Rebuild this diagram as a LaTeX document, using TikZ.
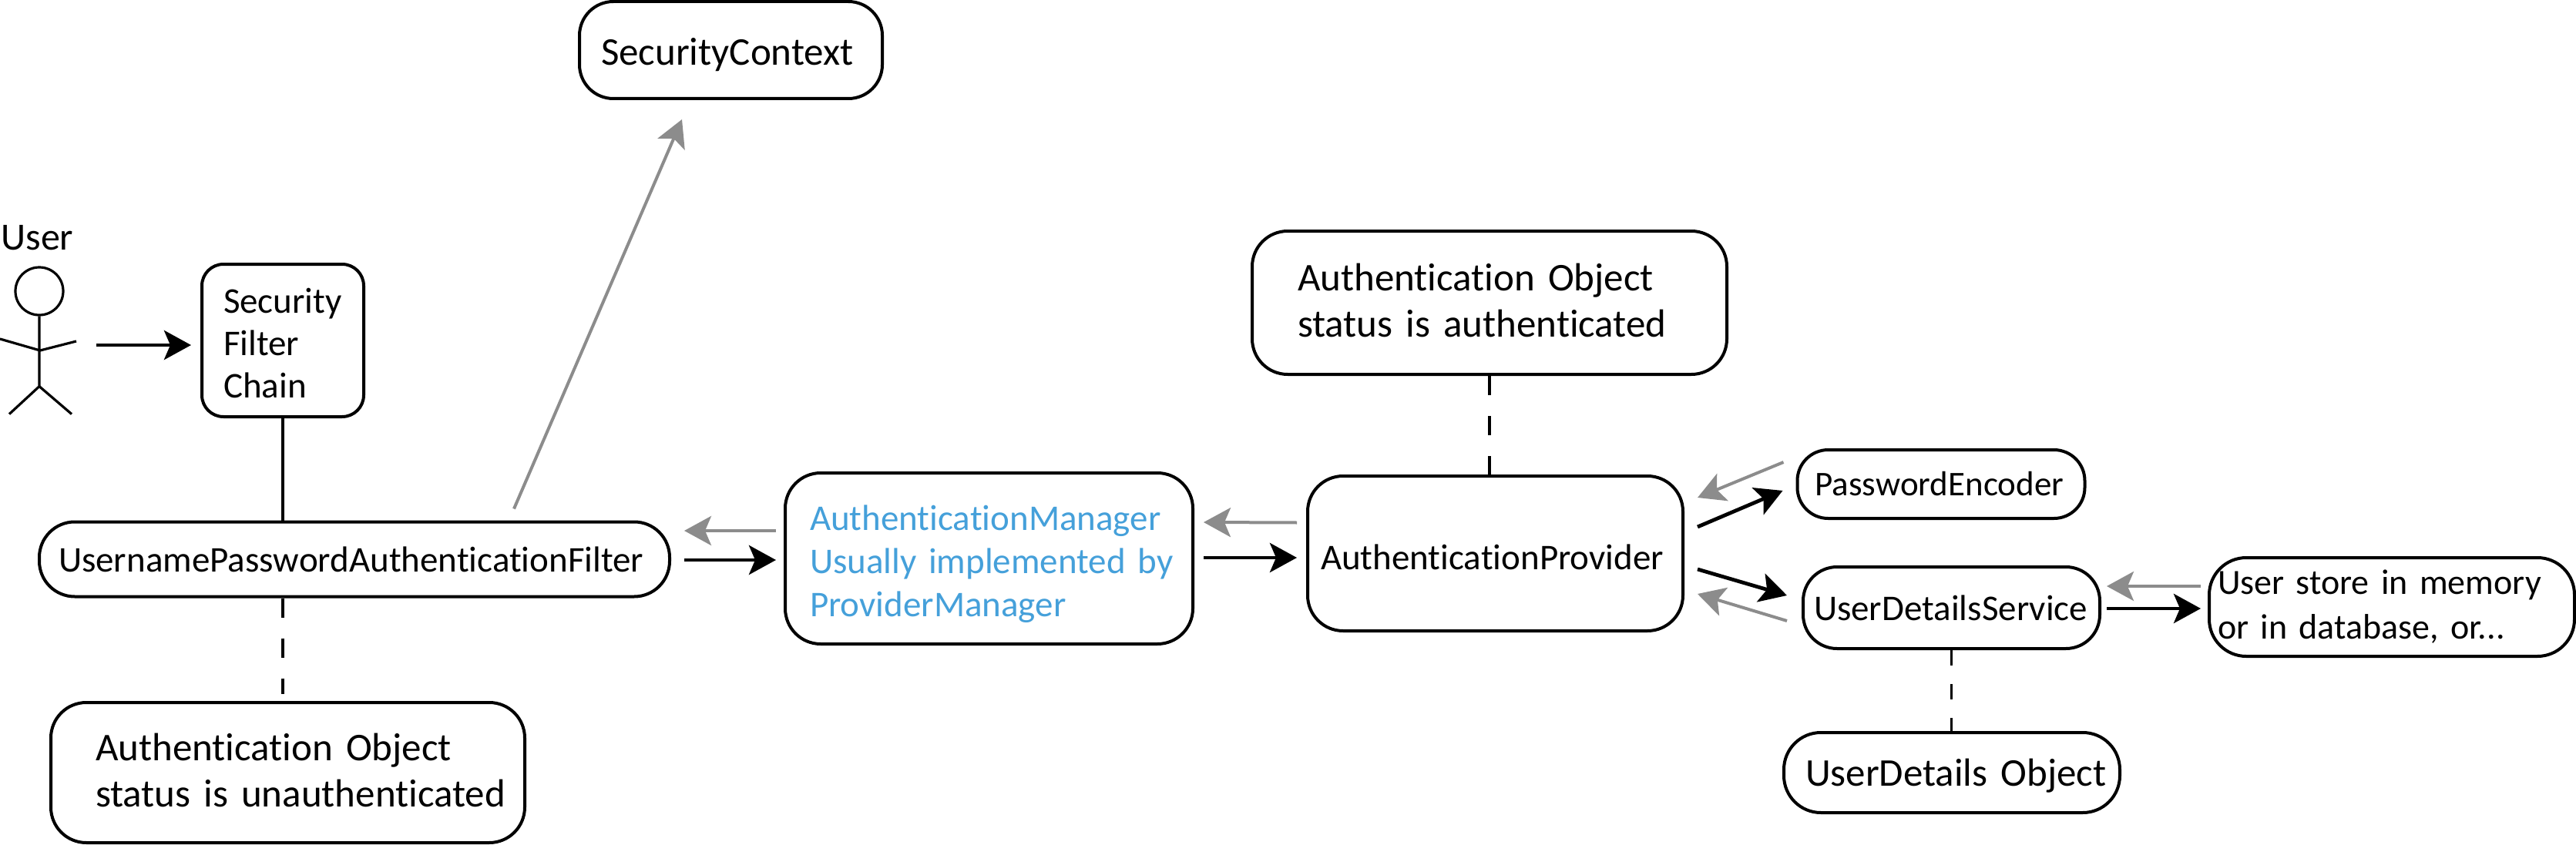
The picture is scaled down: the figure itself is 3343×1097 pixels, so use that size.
\documentclass[tikz,border=0pt]{standalone}
\usepackage{fontspec}
\setmainfont[WordSpace=0.75, Ligatures=NoCommon]{Carlito}
\usepackage{xcolor}
\usetikzlibrary{arrows.meta, positioning, calc}
\hyphenpenalty=10000
\definecolor{primary}{HTML}{000000}
\definecolor{muted}{HTML}{8C8C8C}
\definecolor{accent}{HTML}{45A0DA}
\tikzset{
  box/.style={
    draw=primary, line width=2pt, rounded corners=23pt,
    align=left, font=\fontsize{23.5}{30}\selectfont,
    inner ysep=0pt
  },
  pill/.style={box, rounded corners=23pt},
  bigger/.style={font=\fontsize{25.5}{30}\selectfont},
  call/.style={-{Stealth[length=17.5pt,width=19pt,inset=4pt]}, line width=2.4pt, color=primary},
  back/.style={-{Stealth[length=17.5pt,width=19pt,inset=4pt]}, line width=2pt, color=muted},
  link/.style={line width=1.6pt, color=primary},
  note/.style={link, dash pattern=on 12.5pt off 13.5pt},
  limb/.style={line width=1.6pt, color=primary}
}
\begin{document}
\begin{tikzpicture}[x=0.5pt, y=-0.5pt]
  \useasboundingbox (0,0) rectangle (3343,1097);

  % User
  \node[font=\fontsize{25}{30}\selectfont, anchor=base west, inner sep=0pt] (user) at (1, 324) {User};
  \node[draw=primary, line width=1.6pt, circle, minimum size=31pt, inner sep=0pt] (head) at (51, 378) {};
  \draw[limb] (head.south) -- ++(0, 91) -- ++(-39, 36);
  \draw[limb] (head.south) ++(0, 91) -- ++(42, 36);
  \draw[limb] (0, 440) -- (52, 455) -- (99, 443);
  \coordinate (hand) at (125, 448);

  % Boxes on the left
  \node[box, rounded corners=14pt, text width=77pt, inner xsep=14pt, minimum height=99pt, font=\fontsize{23.5}{27.5}\selectfont] (chain) at (367, 442) {\rule{0pt}{20pt}Security\\Filter\\Chain};
  \node[pill, text width=384pt, inner xsep=12.5pt, minimum height=48.5pt] (filter) at (460, 726) {UsernamePasswordAuthenticationFilter};
  \node[box, bigger, text width=249.5pt, inner xsep=29pt, minimum height=91pt] (unauth) at (373.5, 1003) {Authentication Object\\\mbox{status is unauthenticated}\rule[-3pt]{0pt}{0pt}};
  \node[pill, bigger, rounded corners=22pt, text width=168.5pt, inner xsep=14pt, minimum height=63pt] (context) at (948.5, 65) {\rule{0pt}{23.5pt}SecurityContext};

  % Middle
  \node[box, text width=232.5pt, inner xsep=16pt, minimum height=111pt, text=accent, font=\fontsize{23.5}{28}\selectfont] (manager) at (1283.5, 725) {\rule{0pt}{24pt}AuthenticationManager\\\mbox{Usually implemented by}\\ProviderManager};
  \node[box, text width=226.5pt, inner xsep=8.5pt, minimum height=100.5pt] (provider) at (1940.5, 718.5) {\rule{0pt}{21pt}AuthenticationProvider};
  \node[box, bigger, text width=249pt, inner xsep=29.5pt, minimum height=93pt] (auth) at (1933, 393) {Authentication Object\\status is authenticated\rule[-3pt]{0pt}{0pt}};

  % Right
  \node[pill, rounded corners=20pt, text width=163.5pt, inner xsep=11.5pt, minimum height=44.5pt, font=\fontsize{22.5}{30}\selectfont] (encoder) at (2519, 628.5) {PasswordEncoder};
  \node[pill, rounded corners=22pt, text width=178.5pt, inner xsep=7pt, minimum height=53pt] (details) at (2532.5, 789) {UserDetailsService};
  \node[pill, rounded corners=24pt, text width=226pt, inner xsep=5.5pt, minimum height=64pt, font=\fontsize{23}{29}\selectfont] (store) at (3104, 788) {User store in memory\\or in database, or...};
  \node[pill, bigger, rounded corners=24pt, text width=190pt, inner xsep=14pt, minimum height=52pt] (object) at (2533, 1003) {\rule{0pt}{22pt}\mbox{UserDetails Object}};

  % Solid links
  \draw[link] (chain.south) -- (chain.south |- filter.north);
  \draw[call, shorten >=6pt] (hand) -- (chain.west |- hand);
  % Dashed links
  \draw[note, shorten >=4.5pt] (chain |- filter.south) -- (chain |- unauth.north);
  \draw[note] (auth.south) -- (auth.south |- provider.north);
  \draw[note, dash pattern=on 10pt off 12pt] (details.south) -- (details.south |- object.north);

  % Filter and manager
  \draw[back] ([xshift=-5pt,yshift=18pt]manager.west) -- ([xshift=8.5pt,yshift=18.5pt]filter.east);
  \draw[call] ([xshift=8.5pt,yshift=-0.5pt]filter.east) -- ([xshift=-5pt,yshift=-1pt]manager.west);
  \draw[back] ([xshift=103.5pt,yshift=7.5pt]filter.north) -- ([xshift=-31.75pt,yshift=-12.5pt]context.south);

  % Manager and provider
  \draw[back] ([xshift=-6pt,yshift=20pt]provider.west) -- ([xshift=6pt,yshift=23.5pt]manager.east);
  \draw[call] ([xshift=6pt,yshift=0.5pt]manager.east) -- ([xshift=-6pt,yshift=-2.75pt]provider.west);

  % Provider and encoder
  \draw[back] ([xshift=-8pt,yshift=14.25pt]encoder.west) -- ([xshift=8.5pt,yshift=36.25pt]provider.east);
  \draw[call] ([xshift=8.5pt,yshift=17.25pt]provider.east) -- ([xshift=-8.5pt,yshift=-4.25pt]encoder.west);

  % Provider and details
  \draw[call] ([xshift=8.5pt,yshift=-10.25pt]provider.east) -- ([xshift=-9.5pt,yshift=8pt]details.west);
  \draw[back] ([xshift=-9.5pt,yshift=-8.5pt]details.west) -- ([xshift=8.5pt,yshift=-26.25pt]provider.east);

  % Details and store
  \draw[back] ([xshift=-4.5pt,yshift=13.5pt]store.west) -- ([xshift=3.5pt,yshift=14pt]details.east);
  \draw[call] ([xshift=3.5pt,yshift=-0.5pt]details.east) -- ([xshift=-4.5pt,yshift=-1pt]store.west);
\end{tikzpicture}
\end{document}
